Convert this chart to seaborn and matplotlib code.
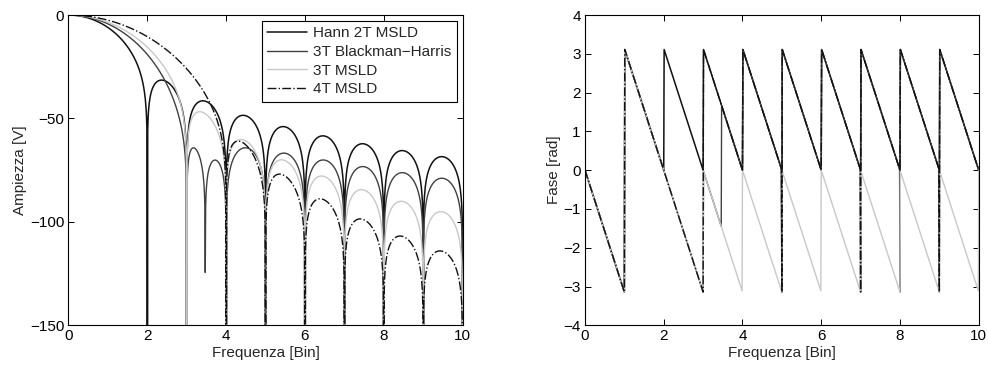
import numpy as np
import pandas as pd
import matplotlib
matplotlib.use("Agg")
import matplotlib.pyplot as plt
import seaborn as sns

# Window names and cosine-sum coefficients (a0, a1, a2, ...)
names = ["Hann 2T MSLD", "3T Blackman\u2212Harris", "3T MSLD", "4T MSLD"]
coef_hann = [0.5, 0.5]
coef_bh3 = [0.40897, 0.5, 0.09103]
coef_msld3 = [0.375, 0.5, 0.125]
coef_msld4 = [0.3125, 0.46875, 0.1875, 0.03125]
colors = ["#111111", "#404040", "#c8c8c8", "#111111"]
styles = ["-", "-", "-", "-."]
widths = [1.1, 1.0, 1.0, 1.0]

x_ticks = [0, 2, 4, 6, 8, 10]
amp_ticks = [0, -50, -100, -150]
phase_ticks = [-4, -3, -2, -1, 0, 1, 2, 3, 4]

freq = np.round(np.arange(0, 1001) * 0.01, 10)


def spectrum(a, f):
    W = a[0] * np.sinc(f)
    for k in range(1, len(a)):
        W = W + a[k] / 2.0 * (np.sinc(f - k) + np.sinc(f + k))
    return W


rows = []
for name, a in zip(names, [coef_hann, coef_bh3, coef_msld3, coef_msld4]):
    W = spectrum(a, freq)
    mag = 20 * np.log10(np.abs(W) / a[0] + 1e-30)
    ph = np.angle(W * np.exp(-1j * np.pi * freq))
    rows.append(pd.DataFrame({"f": freq, "mag": mag, "phase": ph, "win": name}))
df = pd.concat(rows, ignore_index=True)

sns.set_style("ticks")
plt.rcParams["font.family"] = ["Liberation Sans", "DejaVu Sans"]
plt.rcParams["font.size"] = 11

fig = plt.figure(figsize=(9.88, 3.67), dpi=100)
ax1 = fig.add_axes([0.0693, 0.1136, 0.399, 0.8455])
ax2 = fig.add_axes([0.5921, 0.1136, 0.3985, 0.8455])

for name, c, ls, lw in zip(names, colors, styles, widths):
    d = df[df["win"] == name]
    sns.lineplot(data=d, x="f", y="mag", ax=ax1, color=c, linestyle=ls,
                 linewidth=lw, label=name, estimator=None, sort=False)
    sns.lineplot(data=d, x="f", y="phase", ax=ax2, color=c, linestyle=ls,
                 linewidth=lw, label=None, estimator=None, sort=False, legend=False)

ax1.set_xlim(0, 10)
ax1.set_ylim(-150, 0)
ax1.set_xticks(x_ticks)
ax1.set_yticks(amp_ticks)
ax1.set_xlabel("Frequenza [Bin]", fontsize=11, labelpad=2)
ax1.set_ylabel("Ampiezza [V]", fontsize=11, labelpad=2)

ax2.set_xlim(0, 10)
ax2.set_ylim(-4, 4)
ax2.set_xticks(x_ticks)
ax2.set_yticks(phase_ticks)
ax2.set_xlabel("Frequenza [Bin]", fontsize=11, labelpad=2)
ax2.set_ylabel("Fase [rad]", fontsize=11, labelpad=2)

for ax in (ax1, ax2):
    for s in ax.spines.values():
        s.set_visible(True)
        s.set_color("black")
        s.set_linewidth(0.8)
    ax.tick_params(direction="in", length=4, width=0.7, top=True, right=True,
                   labelsize=11, pad=3, colors="black")

leg = ax1.legend(loc="upper right", frameon=True, fancybox=False, framealpha=1,
                 edgecolor="black", handlelength=2.6, labelspacing=0.3,
                 borderaxespad=0.4, borderpad=0.35, handletextpad=0.4, fontsize=11)
leg.get_frame().set_linewidth(0.8)

fig.savefig("out.png", dpi=100)
